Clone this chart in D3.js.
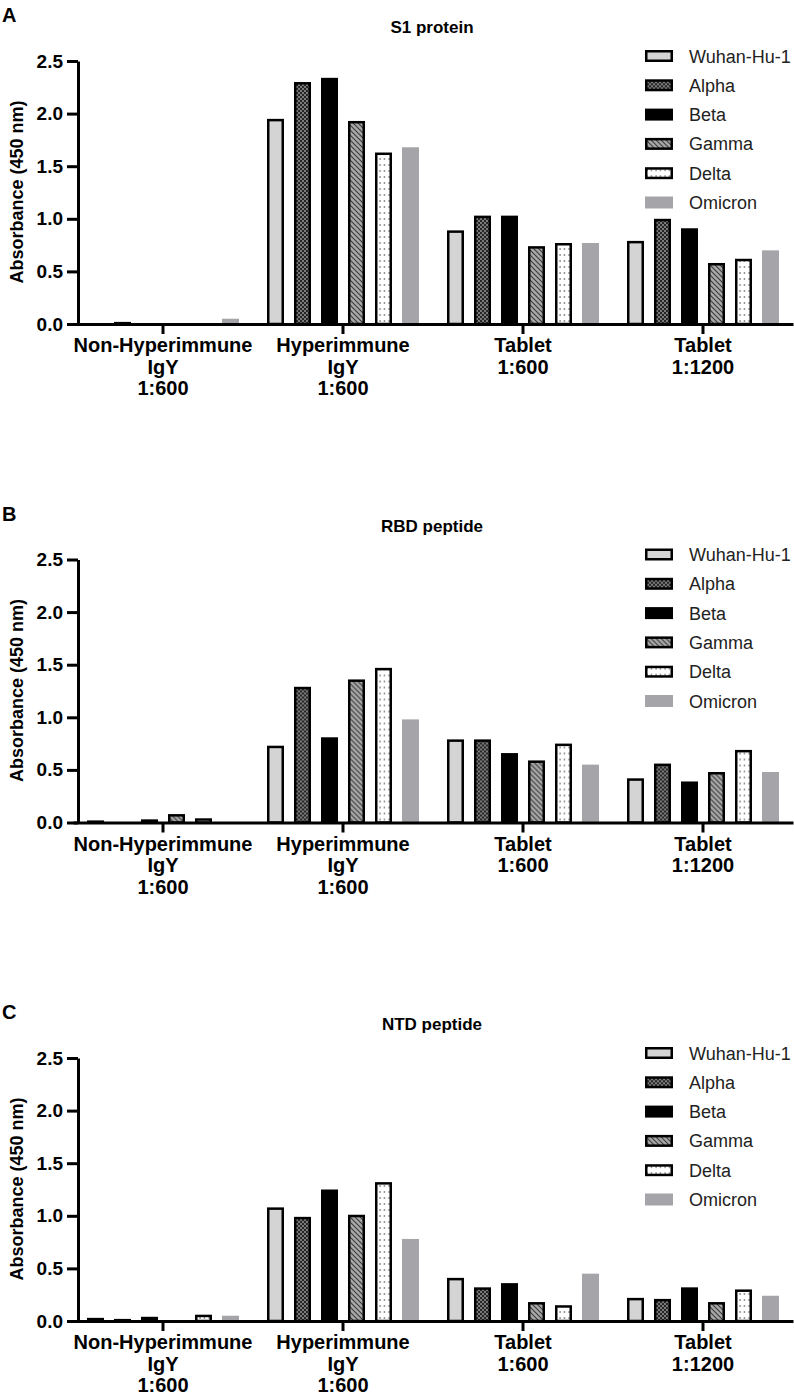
<!DOCTYPE html>
<html>
<head>
<meta charset="utf-8">
<script src="https://cdn.jsdelivr.net/npm/d3@7"></script>
<style>
  body { margin: 0; background: #fff; }
  text { font-family: "Liberation Sans", Arial, sans-serif; }
</style>
</head>
<body>
<div id="chart"></div>
<script>
// groups on the x axis, each label is split into lines
const groups = ["Non-Hyperimmune IgY 1:600", "Hyperimmune IgY 1:600", "Tablet 1:600", "Tablet 1:1200"];
const groupLines = [["Non-Hyperimmune", "IgY", "1:600"], ["Hyperimmune", "IgY", "1:600"], ["Tablet", "1:600"], ["Tablet", "1:1200"]];
const variants = ["Wuhan-Hu-1", "Alpha", "Beta", "Gamma", "Delta", "Omicron"];
const yTicks = [0, 0.5, 1.0, 1.5, 2.0, 2.5];

// absorbance values, one row per group, one column per variant
const s1Values = [
  [0.00, 0.02, 0.00, 0.00, 0.00, 0.05],
  [1.95, 2.30, 2.34, 1.93, 1.63, 1.68],
  [0.89, 1.03, 1.03, 0.74, 0.77, 0.77],
  [0.79, 1.00, 0.91, 0.58, 0.62, 0.70]
];
const rbdValues = [
  [0.02, 0.00, 0.03, 0.08, 0.04, 0.00],
  [0.73, 1.29, 0.81, 1.36, 1.47, 0.98],
  [0.79, 0.79, 0.66, 0.59, 0.75, 0.55],
  [0.42, 0.56, 0.39, 0.48, 0.69, 0.48]
];
const ntdValues = [
  [0.03, 0.02, 0.04, 0.01, 0.06, 0.05],
  [1.08, 0.99, 1.25, 1.01, 1.32, 0.78],
  [0.41, 0.32, 0.36, 0.18, 0.15, 0.45],
  [0.22, 0.21, 0.32, 0.18, 0.30, 0.24]
];

const panels = [
  {letter: "A", title: "S1 protein", values: s1Values},
  {letter: "B", title: "RBD peptide", values: rbdValues},
  {letter: "C", title: "NTD peptide", values: ntdValues}
];

const fills = ["#d4d4d4", "url(#pAlpha)", "#000", "url(#pGamma)", "url(#pDelta)", "#a5a5a9"];
const stroked = [true, true, true, true, true, false];

const width = 794, height = 1400;
const panelStep = 498.5;

const svg = d3.select("#chart").append("svg")
    .attr("width", width)
    .attr("height", height);

// fill patterns
const defs = svg.append("defs");
let pa = defs.append("pattern").attr("id", "pAlpha").attr("patternUnits", "userSpaceOnUse")
    .attr("width", 4).attr("height", 4);
pa.append("rect").attr("width", 4).attr("height", 4).attr("fill", "#7a7a7a");
pa.append("rect").attr("width", 2).attr("height", 2).attr("fill", "#262626");
pa.append("rect").attr("x", 2).attr("y", 2).attr("width", 2).attr("height", 2).attr("fill", "#262626");

let pg = defs.append("pattern").attr("id", "pGamma").attr("patternUnits", "userSpaceOnUse")
    .attr("width", 5).attr("height", 5);
pg.append("rect").attr("width", 5).attr("height", 5).attr("fill", "#a8a8a8");
pg.append("path").attr("d", "M-1,-1L6,6M-1,4L1,6M4,-1L6,1")
    .attr("stroke", "#3a3a3a").attr("stroke-width", 1.1);

let pd = defs.append("pattern").attr("id", "pDelta").attr("patternUnits", "userSpaceOnUse")
    .attr("width", 4.5).attr("height", 6);
pd.append("rect").attr("width", 4.5).attr("height", 6).attr("fill", "#fff");
pd.append("circle").attr("cx", 2).attr("cy", 3).attr("r", 0.75).attr("fill", "#333");

const x0 = d3.scaleBand().domain(groups).range([73, 793]);
const x1 = d3.scaleBand().domain(variants).range([9, 171]).paddingInner(0.37).paddingOuter(0.185);
const y = d3.scaleLinear().domain([0, 2.5]).range([324, 61]);

panels.forEach((p, i) => {
    const g = svg.append("g").attr("transform", `translate(0, ${i * panelStep})`);

    g.append("text").attr("x", 2).attr("y", 22)
        .attr("font-size", 20).attr("font-weight", "bold").text(p.letter);
    g.append("text").attr("x", 432).attr("y", 33).attr("text-anchor", "middle")
        .attr("font-size", 17).attr("font-weight", "bold").text(p.title);

    // bars
    p.values.forEach((row, gi) => {
        g.append("g").selectAll("rect")
            .data(row)
            .join("rect")
            .attr("x", (d, k) => x0(groups[gi]) + x1(variants[k]) + (stroked[k] ? 1.25 : 0))
            .attr("width", (d, k) => x1.bandwidth() - (stroked[k] ? 2.5 : 0))
            .attr("y", (d, k) => y(d) + (stroked[k] ? 1.25 : 0))
            .attr("height", (d, k) => Math.max(0, y(0) - y(d) - (stroked[k] ? 1.25 : 0)))
            .attr("fill", (d, k) => fills[k])
            .attr("stroke", (d, k) => stroked[k] ? "#000" : "none")
            .attr("stroke-width", 2.5);
    });

    // y axis
    const yAxis = g.append("g").attr("transform", "translate(78,0)")
        .call(d3.axisLeft(y).tickValues(yTicks).tickFormat(d3.format(".1f"))
            .tickSize(11).tickSizeOuter(0).tickPadding(4));
    yAxis.select(".domain").attr("stroke-width", 3);
    yAxis.selectAll(".tick line").attr("stroke-width", 3);
    yAxis.selectAll(".tick text").attr("font-size", 19).attr("font-weight", "bold")
        .attr("font-family", "Liberation Sans, Arial, sans-serif").attr("fill", "#000");

    // x axis
    const xAxis = g.append("g").attr("transform", "translate(0,324)")
        .call(d3.axisBottom(x0).tickSize(10).tickSizeOuter(0).tickFormat(""));
    xAxis.select(".domain").attr("stroke-width", 3);
    xAxis.selectAll(".tick line").attr("stroke-width", 3);
    xAxis.selectAll(".tick").each(function(d, gi) {
        const t = d3.select(this).append("text")
            .attr("text-anchor", "middle")
            .attr("font-size", 20).attr("font-weight", "bold")
            .attr("font-family", "Liberation Sans, Arial, sans-serif")
            .attr("fill", "#000");
        groupLines[gi].forEach((line, li) => {
            t.append("tspan").attr("x", 0).attr("y", 28 + li * 21.5).text(line);
        });
    });

    // y title
    g.append("text")
        .attr("transform", "translate(23,192) rotate(-90)")
        .attr("text-anchor", "middle")
        .attr("font-size", 18).attr("font-weight", "bold")
        .text("Absorbance (450 nm)");

    // legend
    const leg = g.append("g").selectAll("g")
        .data(variants)
        .join("g")
        .attr("transform", (d, k) => `translate(645, ${56 + k * 29.3})`);
    leg.append("rect")
        .attr("x", (d, k) => stroked[k] ? 1.25 : 0)
        .attr("y", (d, k) => -6 + (stroked[k] ? 1.25 : 0))
        .attr("width", (d, k) => 28 - (stroked[k] ? 2.5 : 0))
        .attr("height", (d, k) => 12 - (stroked[k] ? 2.5 : 0))
        .attr("fill", (d, k) => fills[k])
        .attr("stroke", (d, k) => stroked[k] ? "#000" : "none")
        .attr("stroke-width", 2.5);
    leg.append("text")
        .attr("x", 44).attr("y", 6.5)
        .attr("font-size", 18).attr("fill", "#222")
        .text(d => d);
});
</script>
</body>
</html>
